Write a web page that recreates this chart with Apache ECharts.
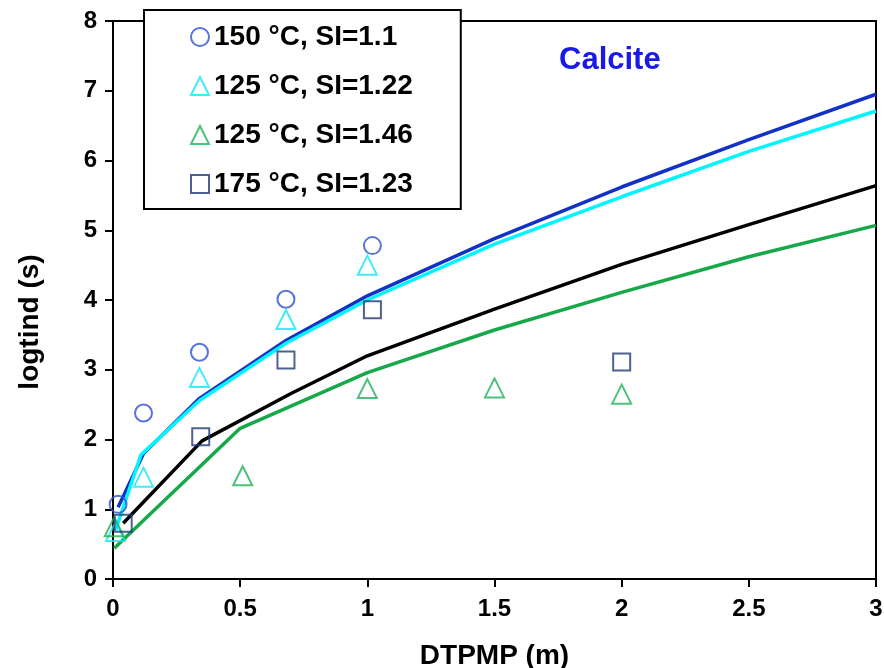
<!DOCTYPE html>
<html>
<head>
<meta charset="utf-8">
<script src="https://cdn.jsdelivr.net/npm/echarts@6/dist/echarts.min.js"></script>
<style>
html,body{margin:0;padding:0;background:#fff;}
#chart{width:884px;height:668px;}
</style>
</head>
<body>
<div id="chart"></div>
<script>
// ---- data ----
const xTicks = [0, 0.5, 1, 1.5, 2, 2.5, 3];
const yTicks = [0, 1, 2, 3, 4, 5, 6, 7, 8];

// measured points
const s150_x = [0.02, 0.12, 0.34, 0.68, 1.02];
const s150_y = [1.07, 2.38, 3.25, 4.01, 4.78];
const s125a_x = [0.01, 0.12, 0.34, 0.68, 1.00];
const s125a_y = [0.68, 1.46, 2.89, 3.72, 4.50];
const s125b_x = [0.005, 0.51, 1.00, 1.50, 2.00];
const s125b_y = [0.75, 1.48, 2.73, 2.74, 2.65];
const s175_x = [0.04, 0.345, 0.68, 1.02, 2.00];
const s175_y = [0.80, 2.04, 3.14, 3.86, 3.11];

// model curves
const l150_x = [0.02, 0.12, 0.34, 0.68, 1.0, 1.5, 2.0, 2.5, 3.0];
const l150_y = [1.03, 1.80, 2.59, 3.42, 4.06, 4.88, 5.62, 6.30, 6.95];
const l125a_x = [0.01, 0.11, 0.34, 0.68, 1.0, 1.5, 2.0, 2.5, 3.0];
const l125a_y = [0.70, 1.78, 2.56, 3.38, 4.00, 4.80, 5.48, 6.13, 6.71];
const l175_x = [0.04, 0.35, 0.70, 1.0, 1.5, 2.0, 2.5, 3.0];
const l175_y = [0.80, 1.98, 2.66, 3.20, 3.87, 4.51, 5.08, 5.64];
const l125b_x = [0.005, 0.5, 1.0, 1.5, 2.0, 2.5, 3.0];
const l125b_y = [0.44, 2.16, 2.96, 3.57, 4.11, 4.62, 5.07];

const names = ['150 °C, SI=1.1', '125 °C, SI=1.22', '125 °C, SI=1.46', '175 °C, SI=1.23'];
const mineral = 'Calcite';
const xTitle = 'DTPMP (m)';
const yTitle = 'logtind (s)';

// ---- build ----
const zip = (xs, ys) => xs.map((x, i) => [x, ys[i]]);
const FONT = '"Liberation Sans", Arial, sans-serif';

const cBlueM = '#2E4FD6', cCyanM = '#14E6F2', cGreenM = '#22B057', cNavyM = '#1F3B76';
const cBlueL = '#1232C6', cCyanL = '#00F5FF', cBlackL = '#000000', cGreenL = '#17A84A';

function lineSeries(xs, ys, color) {
  return {
    type: 'line', data: zip(xs, ys), showSymbol: false, symbol: 'none',
    lineStyle: { color: color, width: 3.5 }, z: 2, silent: true
  };
}
function scatterSeries(name, xs, ys, symbol, color, size) {
  return {
    name: name, type: 'scatter', data: zip(xs, ys), symbol: symbol, symbolSize: size,
    itemStyle: { color: 'rgba(255,255,255,0)', borderColor: color, borderWidth: 2 }, z: 5
  };
}

const chart = echarts.init(document.getElementById('chart'), null, { renderer: 'canvas' });
chart.setOption({
  animation: false,
  backgroundColor: '#fff',
  textStyle: { fontFamily: FONT },
  grid: { left: 113, right: 8, top: 21, bottom: 89, show: true, borderColor: '#000', borderWidth: 2,
          backgroundColor: 'transparent', containLabel: false, outerBoundsMode: 'none' },
  xAxis: {
    type: 'value', min: xTicks[0], max: xTicks[xTicks.length - 1], interval: 0.5,
    name: xTitle, nameLocation: 'middle', nameGap: 63,
    nameTextStyle: { fontSize: 28, fontWeight: 'bold', color: '#000', fontFamily: FONT },
    axisLine: { show: true, lineStyle: { color: '#000', width: 2 } },
    axisTick: { show: true, length: 8, lineStyle: { color: '#000', width: 2 } },
    axisLabel: { fontSize: 24, fontWeight: 'bold', color: '#000', margin: 18, fontFamily: FONT },
    splitLine: { show: false }
  },
  yAxis: {
    type: 'value', min: yTicks[0], max: yTicks[yTicks.length - 1], interval: 1,
    axisLine: { show: true, lineStyle: { color: '#000', width: 2 } },
    axisTick: { show: true, length: 8, lineStyle: { color: '#000', width: 2 } },
    axisLabel: { fontSize: 24, fontWeight: 'bold', color: '#000', margin: 16, fontFamily: FONT },
    splitLine: { show: false }
  },
  legend: {
    show: true, orient: 'vertical', left: 144, top: 10,
    backgroundColor: '#fff', borderColor: '#000', borderWidth: 2,
    padding: [12, 48, 10, 46], itemGap: 19, itemWidth: 18, itemHeight: 18,
    textStyle: { fontSize: 28, fontWeight: 'bold', color: '#000', lineHeight: 30, fontFamily: FONT },
    data: [
      { name: names[0], icon: 'circle', itemStyle: { color: 'rgba(255,255,255,0)', borderColor: cBlueM, borderWidth: 2 } },
      { name: names[1], icon: 'triangle', itemStyle: { color: 'rgba(255,255,255,0)', borderColor: cCyanM, borderWidth: 2 } },
      { name: names[2], icon: 'triangle', itemStyle: { color: 'rgba(255,255,255,0)', borderColor: cGreenM, borderWidth: 2 } },
      { name: names[3], icon: 'rect', itemStyle: { color: 'rgba(255,255,255,0)', borderColor: cNavyM, borderWidth: 2 } }
    ],
    selectedMode: false
  },
  graphic: [
    {
      type: 'text', left: 559, top: 45, z: 10,
      style: { text: mineral, fontSize: 31, fontWeight: 'bold', fill: '#1A1AE8', fontFamily: FONT }
    },
    {
      type: 'text', x: 30, y: 322, rotation: Math.PI / 2, z: 10,
      style: { text: yTitle, fontSize: 28, fontWeight: 'bold', fill: '#000', fontFamily: FONT,
               align: 'center', verticalAlign: 'middle' }
    }
  ],
  series: [
    lineSeries(l150_x, l150_y, cBlueL),
    lineSeries(l125a_x, l125a_y, cCyanL),
    lineSeries(l175_x, l175_y, cBlackL),
    lineSeries(l125b_x, l125b_y, cGreenL),
    scatterSeries(names[0], s150_x, s150_y, 'circle', cBlueM, 17),
    scatterSeries(names[1], s125a_x, s125a_y, 'triangle', cCyanM, 19),
    scatterSeries(names[2], s125b_x, s125b_y, 'triangle', cGreenM, 19),
    scatterSeries(names[3], s175_x, s175_y, 'rect', cNavyM, 17)
  ]
});
</script>
</body>
</html>
